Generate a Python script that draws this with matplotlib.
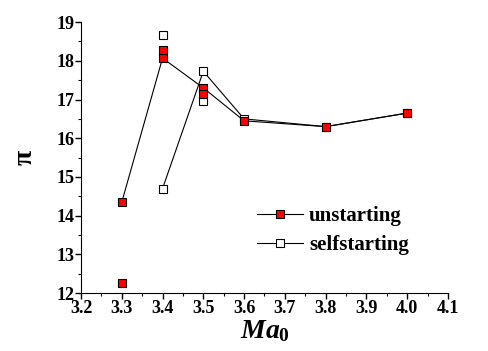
import matplotlib
matplotlib.use('Agg')
import matplotlib.pyplot as plt
from matplotlib.ticker import MultipleLocator

# unstarting: connected points + extra points
un_x = [3.3, 3.4, 3.5, 3.6, 3.8, 4.0]
un_y = [14.35, 18.07, 17.3, 16.45, 16.3, 16.65]
un_extra_x = [3.3, 3.4, 3.5]
un_extra_y = [12.25, 18.27, 17.15]

# selfstarting
self_x = [3.4, 3.5, 3.6, 3.8, 4.0]
self_y = [14.7, 17.73, 16.5, 16.3, 16.65]
self_extra_x = [3.4, 3.5]
self_extra_y = [18.67, 16.97]

x_ticks = [3.2, 3.3, 3.4, 3.5, 3.6, 3.7, 3.8, 3.9, 4.0, 4.1]
y_ticks = [12, 13, 14, 15, 16, 17, 18, 19]

plt.rcParams['font.family'] = 'Liberation Serif'
plt.rcParams['font.weight'] = 'bold'
plt.rcParams['mathtext.fontset'] = 'custom'
plt.rcParams['mathtext.it'] = 'Liberation Serif:italic:bold'
plt.rcParams['mathtext.rm'] = 'Liberation Serif:bold'

fig = plt.figure(figsize=(4.88, 3.51), dpi=100)
ax = fig.add_axes([0.166, 0.165, 0.752, 0.772])

ms = 5.5
ax.plot(self_x, self_y, '-', color='black', lw=0.8, marker='s', ms=ms,
        mfc='white', mec='black', mew=0.8, label='selfstarting', zorder=2)
ax.plot(self_extra_x, self_extra_y, 's', ms=ms, mfc='white', mec='black', mew=0.8, zorder=2)
ax.plot(un_x, un_y, '-', color='black', lw=0.8, marker='s', ms=ms,
        mfc='red', mec='black', mew=0.8, label='unstarting', zorder=3)
ax.plot(un_extra_x, un_extra_y, 's', ms=ms, mfc='red', mec='black', mew=0.8, zorder=3)

ax.set_xlim(3.2, 4.1)
ax.set_ylim(12, 19)
ax.set_xticks(x_ticks, ['%.1f' % v for v in x_ticks], fontweight='bold', fontsize=13)
ax.set_yticks(y_ticks, [str(v) for v in y_ticks], fontweight='bold', fontsize=13)
ax.xaxis.set_minor_locator(MultipleLocator(0.05))
ax.yaxis.set_minor_locator(MultipleLocator(0.5))
ax.spines['top'].set_visible(False)
ax.spines['right'].set_visible(False)
ax.tick_params(which='major', direction='out', length=4, width=1, pad=1)
ax.tick_params(which='minor', direction='out', length=2.5, width=0.8)

ax.set_xlabel('$Ma_0$', fontsize=20, labelpad=1)
ax.set_ylabel('π', fontsize=20, fontweight='bold', labelpad=13)

handles, labels = ax.get_legend_handles_labels()
ax.legend(handles[::-1], labels[::-1], loc='lower right', bbox_to_anchor=(0.945, 0.07),
          frameon=False, handlelength=2.2, handletextpad=0.3,
          labelspacing=0.45, prop={'weight': 'bold', 'size': 15})

fig.savefig('out.png', dpi=100)
